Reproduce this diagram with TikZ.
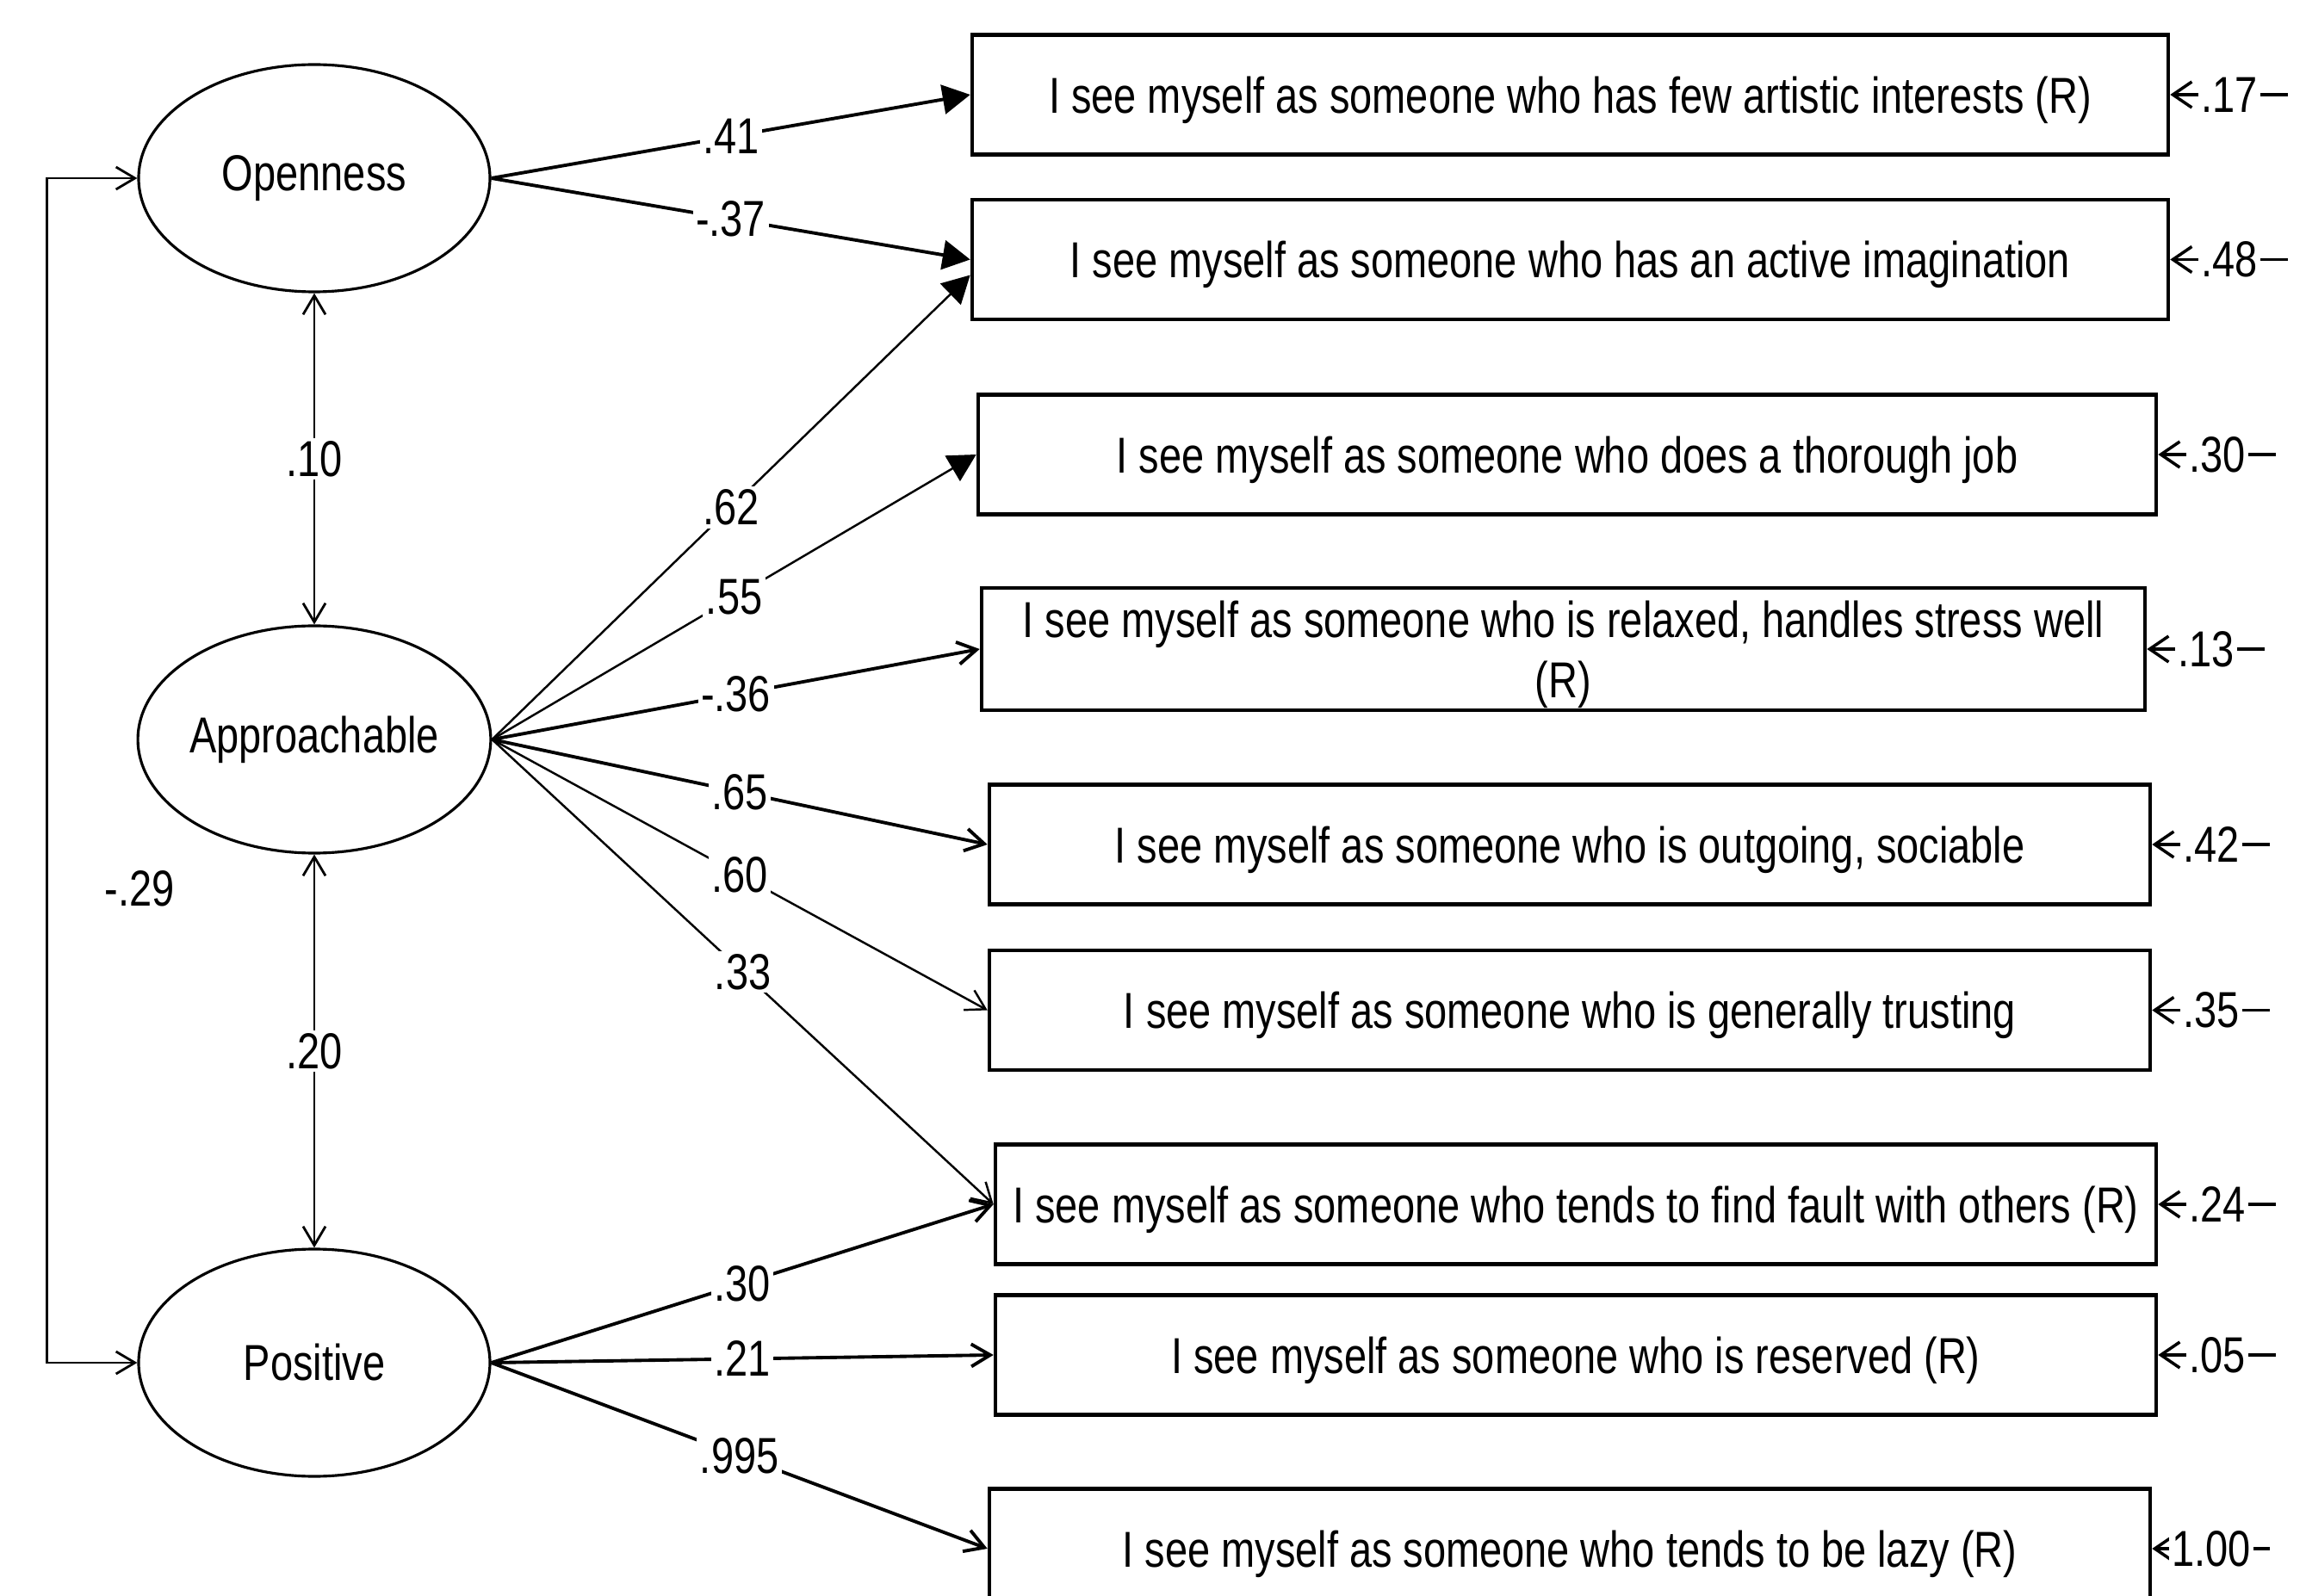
\documentclass[tikz,border=0pt]{standalone}
\usepackage{fontspec}
\setmainfont{Liberation Sans}[FakeStretch=0.8]
\usepackage{tikz}
\usetikzlibrary{shapes.geometric,arrows.meta}

\begin{document}
\begin{tikzpicture}[
		font=\fontsize{16.7pt}{20pt}\selectfont,
		latent/.style={ellipse,draw,line width=0.9pt,minimum width=4.08cm,minimum height=2.64cm,inner sep=0pt},
		item/.style={rectangle,draw,line width=1.3pt,minimum height=1.39cm,inner xsep=2pt,text depth=0pt,align=center},
		coef/.style={midway,fill=white,inner sep=1pt},
		heavy/.style={line width=1.1pt,-{Triangle[length=3.2mm,width=3.4mm]}},
		light/.style={line width=0.7pt,-{Triangle[length=3.2mm,width=3.4mm]}},
		heavyb/.style={line width=1.1pt,-{Straight Barb[length=2.2mm,width=2.6mm]}},
		lightb/.style={line width=0.7pt,-{Straight Barb[length=2.2mm,width=2.6mm]}},
		resid/.style={line width=1pt,{Straight Barb[length=2.2mm,width=3mm]}-},
		corr/.style={line width=0.8pt,{Straight Barb[length=2.2mm,width=2.6mm]}-{Straight Barb[length=2.2mm,width=2.6mm]}}
	]
			\useasboundingbox (0,0) rectangle (26.78,-18.54);
			\coordinate (O) at (3.65,-2.07);
			\coordinate (A) at (3.65,-8.59);
			\coordinate (P) at (3.65,-15.83);
			\node[latent] (open) at (O) {Openness};
			\node[latent] (appr) at (A) {Approachable};
			\node[latent] (pos) at (P) {Positive};
			\node[item,minimum width=13.89cm] (b1) at (18.235,-1.10) {I see myself as someone who has few artistic interests (R)};
			\node[item,minimum width=13.89cm] (b2) at (18.235,-3.015) {I see myself as someone who has an active imagination};
			\node[item,minimum width=13.68cm] (b3) at (18.20,-5.28) {I see myself as someone who does a thorough job};
			\node[item,minimum width=13.51cm,minimum height=1.42cm,inner ysep=1pt] (b4) at (18.155,-7.54) {I see myself as someone who is relaxed, handles stress well\\(R)};
			\node[item,minimum width=13.48cm] (b5) at (18.23,-9.81) {I see myself as someone who is outgoing, sociable};
			\node[item,minimum width=13.48cm] (b6) at (18.23,-11.735) {I see myself as someone who is generally trusting};
			\node[item,minimum width=13.48cm] (b7) at (18.30,-13.99) {I see myself as someone who tends to find fault with others (R)};
			\node[item,minimum width=13.48cm] (b8) at (18.30,-15.74) {I see myself as someone who is reserved (R)};
			\node[item,minimum width=13.48cm] (b9) at (18.23,-17.99) {I see myself as someone who tends to be lazy (R)};
			\node (neg) at (1.62,-10.32) {-.29};
			\coordinate (b2low) at ([yshift=-1.8mm]b2.west);
			\draw[corr] (open) -- (appr) node[coef] {.10};
			\draw[corr] (appr) -- (pos) node[coef] {.20};
			\draw[corr] (open.west) -- ++(-1.05,0) |- (pos.west);
			\foreach \src/\dst/\val/\sty in {open.east/b1.west/.41/heavy,open.east/b2.west/-.37/heavy,appr.east/b2low/.62/light,appr.east/b3.west/.55/light,appr.east/b4.west/-.36/heavyb,appr.east/b5.west/.65/heavyb,appr.east/b6.west/.60/lightb,appr.east/b7.west/.33/lightb,pos.east/b7.west/.30/heavyb,pos.east/b8.west/.21/heavyb,pos.east/b9.west/.995/heavyb}
				\draw[\sty] (\src) -- (\dst) node[coef] {\val};
			\foreach \b/\v in {1/.17,2/.48,3/.30,4/.13,5/.42,6/.35,7/.24,8/.05,9/1.00}{
				\coordinate (e\b) at ([xshift=13.7mm]b\b.east);
				\draw[resid] (b\b.east) -- (e\b) node[coef] {\v};
			}
		\end{tikzpicture}
\end{document}
